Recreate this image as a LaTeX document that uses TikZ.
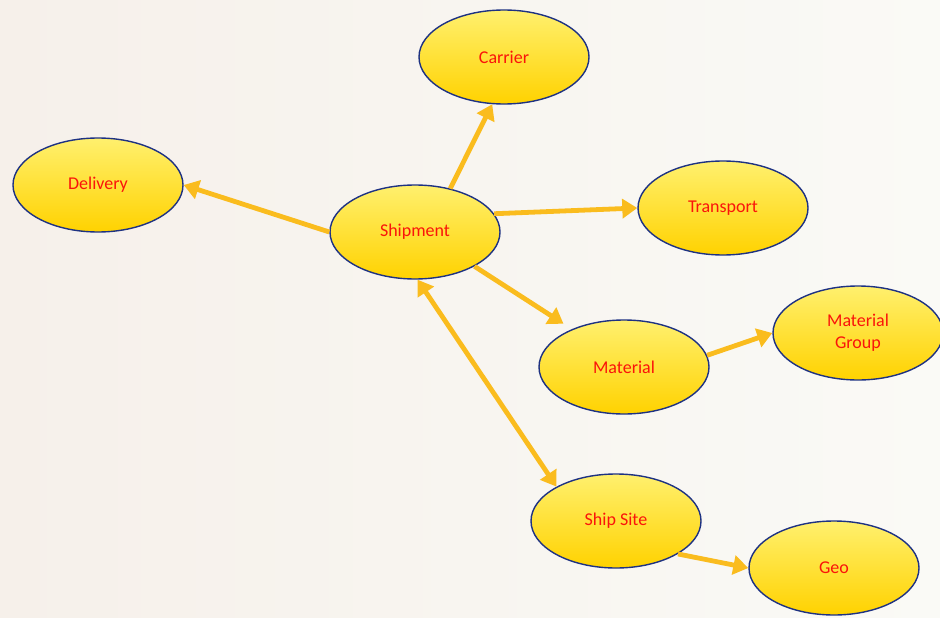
\documentclass[tikz,border=0pt]{standalone}
\usepackage{fontspec}
\setmainfont{Carlito}
\usetikzlibrary{shapes.geometric,arrows.meta,positioning}

\definecolor{bubbletop}{RGB}{255,240,110}
\definecolor{bubblebot}{RGB}{255,210,0}
\definecolor{bubbleline}{RGB}{30,50,130}
\definecolor{linkcol}{RGB}{250,188,30}
\definecolor{labelred}{RGB}{250,20,10}

\begin{document}
\begin{tikzpicture}[x=1pt,y=-1pt,font=\fontsize{18}{22}\selectfont,
  entity/.style={ellipse,draw=bubbleline,line width=1.4pt,top color=bubbletop,bottom color=bubblebot,
    minimum width=170pt,minimum height=94pt,inner sep=0pt,text=labelred,align=center},
  link/.style={draw=linkcol,line width=4.8pt,-{Triangle[length=15pt,width=19pt]}},
  twolink/.style={link,{Triangle[length=15pt,width=19pt]}-{Triangle[length=15pt,width=19pt]}}]

\path[left color={rgb,255:red,246;green,240;blue,234},right color={rgb,255:red,250;green,250;blue,246}] (0,0) rectangle (940,618);
\useasboundingbox (0,0) rectangle (940,618);

\node[entity] (ship) at (415,232) {Shipment};
\node[entity] (carrier) at (504,57) {Carrier};
\node[entity] (delivery) at (98,185) {Delivery};
\node[entity] (transport) at (723,208) {Transport};
\node[entity] (material) at (624,367) {Material};
\node[entity] (matgroup) at (858,333) {Material\\Group};
\node[entity] (shipsite) at (616,521) {Ship Site};
\node[entity] (geo) at (834,568) {Geo};

\draw[link] (ship.51) -- (carrier.-104);
\draw[link] (ship.west) -- (delivery.east);
\draw[link] (ship.13) -- (transport.west);
\draw[link,shorten >=10pt] (ship.-30) -- (material.144);
\draw[link] (material.8) -- (matgroup.west);
\draw[twolink] (ship.-87) -- (shipsite.150);
\draw[link] (shipsite.-28) -- (geo.west);

\end{tikzpicture}
\end{document}
